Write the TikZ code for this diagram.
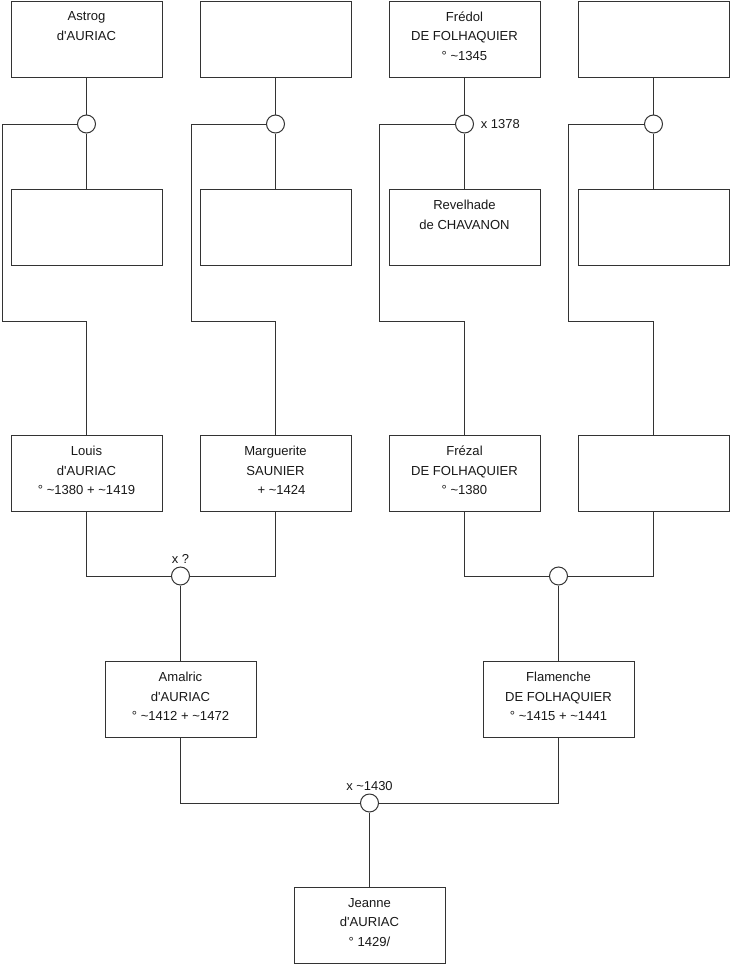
\documentclass[tikz,border=0pt]{standalone}
\usepackage{fontspec}
\newfontfamily\treefont{Liberation Sans}
\usepackage{tikz}
\newcommand{\abt}{\textasciitilde}

\tikzset{
  person/.style={draw=black!80,line width=0.75pt,minimum width=113.25pt,
    minimum height=57pt,inner sep=0pt,anchor=north,fill=white},
  ptext/.style={anchor=north,align=center,inner sep=3pt,yshift=-5.3pt,
    font=\treefont\fontsize{9.8}{14.5}\selectfont,text=black!90},
  knot/.style={draw=black!80,line width=0.75pt,circle,minimum size=13.5pt,
    inner sep=0pt,fill=white},
  wed/.style={font=\treefont\fontsize{9.7}{12}\selectfont,text=black!90,inner sep=2pt},
  link/.style={draw=black!80,line width=0.75pt}
}

\begin{document}
\begin{tikzpicture}[x=0.75pt,y=-0.75pt]
  \useasboundingbox (0,0) rectangle (740,975);
  % grandparents' parents
  \node[person,label={[ptext]north:{Astrog\\d'AURIAC}}] (a1) at (86.5,0.5) {};
  \node[person] (a2) at (275.5,0.5) {};
  \node[person,label={[ptext]north:{Frédol\\DE FOLHAQUIER\\° \abt1345}}] (a3) at (464.5,0.5) {};
  \node[person] (a4) at (653.5,0.5) {};
  % their spouses
  \node[person] (b1) at (86.5,189) {};
  \node[person] (b2) at (275.5,189) {};
  \node[person,label={[ptext]north:{Revelhade\\de CHAVANON}}] (b3) at (464.5,189) {};
  \node[person] (b4) at (653.5,189) {};
  % marriages of the top row
  \node[knot] (m1) at (86.5,124) {};
  \node[knot] (m2) at (275.5,124) {};
  \node[knot,label={[wed,xshift=3pt]right:x 1378}] (m3) at (464.5,124) {};
  \node[knot] (m4) at (653.5,124) {};
  % grandparents
  \node[person,label={[ptext]north:{Louis\\d'AURIAC\\° \abt1380 + \abt1419}}] (c1) at (86.5,435) {};
  \node[person,label={[ptext]north:{Marguerite\\SAUNIER\\\hspace*{9pt}+ \abt1424}}] (c2) at (275.5,435) {};
  \node[person,label={[ptext]north:{Frézal\\DE FOLHAQUIER\\° \abt1380}}] (c3) at (464.5,435) {};
  \node[person] (c4) at (653.5,435) {};
  \foreach \i/\xl in {1/2,2/191,3/379,4/568} {
    \draw[link] (a\i.south) -- (m\i.north);
    \draw[link] (m\i.south) -- (b\i.north);
    \draw[link] (m\i.west) -| (\xl,321) -| (c\i.north);
  }
  % parents
  \node[knot,label={[wed]above:x ?}] (u1) at (180.5,576) {};
  \node[knot] (u2) at (558.5,576) {};
  \node[person,label={[ptext]north:{Amalric\\d'AURIAC\\° \abt1412 + \abt1472}}] (d1) at (180.5,661) {};
  \node[person,label={[ptext]north:{Flamenche\\DE FOLHAQUIER\\° \abt1415 + \abt1441}}] (d2) at (558.5,661) {};
  \draw[link] (c1.south) |- (u1.west);
  \draw[link] (c2.south) |- (u1.east);
  \draw[link] (c3.south) |- (u2.west);
  \draw[link] (c4.south) |- (u2.east);
  \draw[link] (u1.south) -- (d1.north);
  \draw[link] (u2.south) -- (d2.north);
  % child
  \node[knot,label={[wed]above:x \abt1430}] (u3) at (369.5,803) {};
  \node[person,label={[ptext]north:{Jeanne\\d'AURIAC\\° 1429/}}] (j) at (369.5,887) {};
  \draw[link] (d1.south) |- (u3.west);
  \draw[link] (d2.south) |- (u3.east);
  \draw[link] (u3.south) -- (j.north);
\end{tikzpicture}
\end{document}
